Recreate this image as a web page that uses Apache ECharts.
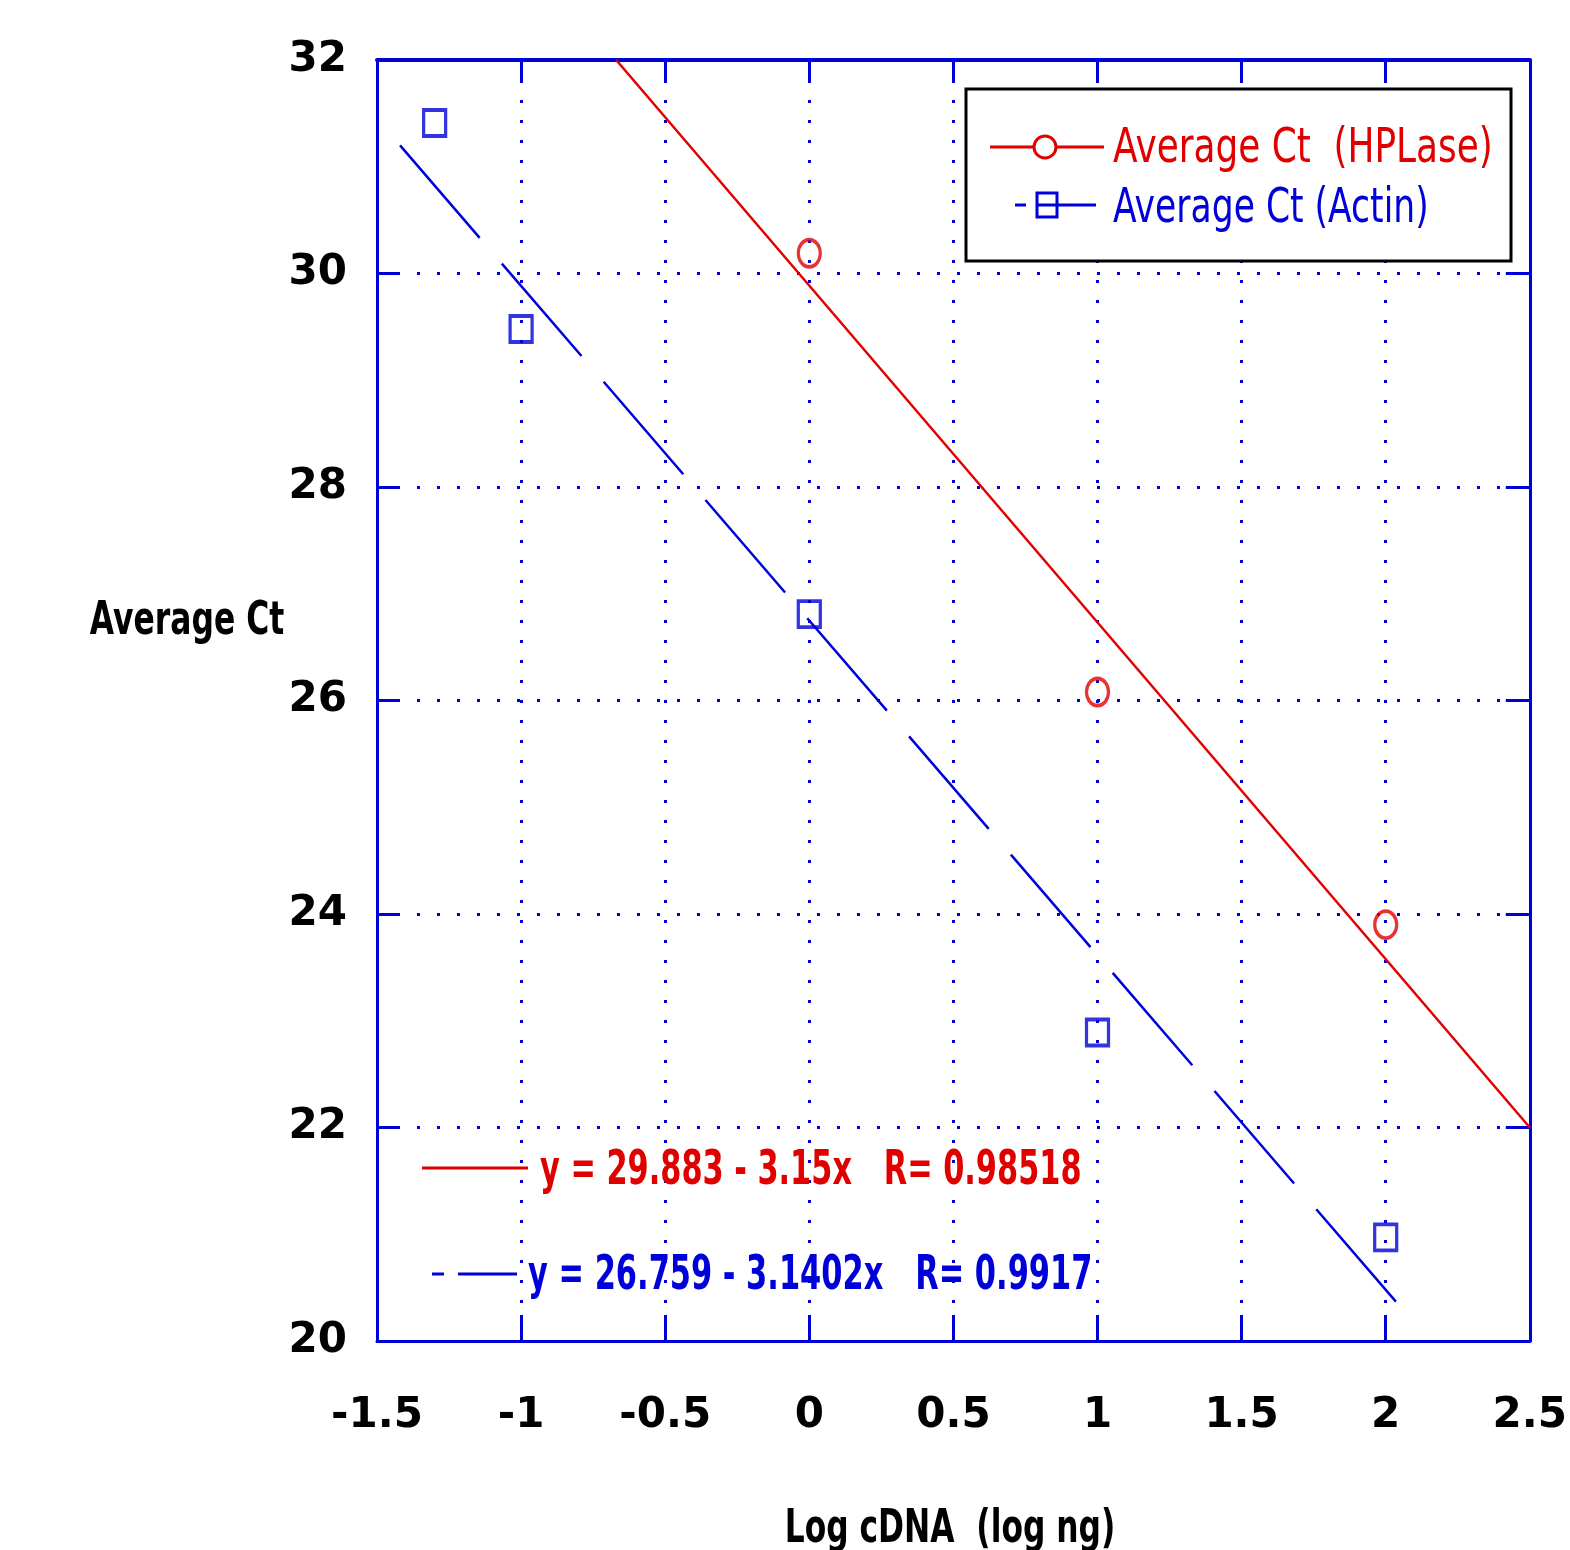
<!DOCTYPE html>
<html><head><meta charset="utf-8">
<script src="https://cdn.jsdelivr.net/npm/echarts@6/dist/echarts.min.js"></script>
<style>html,body{margin:0;padding:0;background:#fff}#c{width:1570px;height:1550px}</style>
</head><body><div id="c"></div>
<script>
// Data
const xTicks = [-1.5, -1, -0.5, 0, 0.5, 1, 1.5, 2, 2.5];
const yTicks = [20, 22, 24, 26, 28, 30, 32];
const hplaseX = [0, 1, 2];
const hplaseY = [30.19, 26.08, 23.9];
const actinX = [-1.3, -1, 0, 1, 2];
const actinY = [31.41, 29.48, 26.81, 22.89, 20.97];
// fit line endpoints
const hplaseFitX = [-0.67, 2.5];
const hplaseFitY = [32.0, 22.0];
const actinFitX = [-1.42, 2.07];
const actinFitY = [31.2, 20.26];
const legendNames = ['Average Ct  (HPLase)', 'Average Ct (Actin)'];
const eqTexts = ['y = 29.883 - 3.15x   R= 0.98518', 'y = 26.759 - 3.1402x   R= 0.9917'];
const yName = 'Average Ct';
const xName = 'Log cDNA  (log ng)';

const RED = '#e00000', BLUE = '#0000d8';
const FONT = "'DejaVu Sans',sans-serif";
const zip = (a, b) => a.map((v, i) => [v, b[i]]);

const chart = echarts.init(document.getElementById('c'));
const gridLine = {show: true, lineStyle: {color: BLUE, width: 3, type: [3, 17]}};
const tickLabel = {fontFamily: FONT, fontWeight: 'bold', fontSize: 42, color: '#000'};
function txt(x, y, text, fill, font, sx, align) {
  return {type: 'text', z: 12, x: x, y: y, scaleX: sx, scaleY: 1,
    style: {x: 0, y: 0, text: text, fill: fill, font: font, textAlign: align || 'left', textVerticalAlign: 'middle'}};
}
chart.setOption({
  animation: false,
  backgroundColor: '#fff',
  grid: {left: 377, right: 40, top: 60, bottom: 209, containLabel: false},
  xAxis: [{
    type: 'value', min: -1.5, max: 2.5, interval: 0.5, position: 'bottom',
    axisLine: {show: true, onZero: false, lineStyle: {color: BLUE, width: 3}},
    axisTick: {show: true, inside: true, length: 26, lineStyle: {color: BLUE, width: 3}},
    axisLabel: Object.assign({margin: 54, formatter: v => String(v)}, tickLabel),
    splitLine: gridLine
  }, {
    type: 'value', min: -1.5, max: 2.5, interval: 0.5, position: 'top',
    axisLine: {show: true, onZero: false, lineStyle: {color: BLUE, width: 4}},
    axisTick: {show: true, inside: true, length: 20, lineStyle: {color: BLUE, width: 3}},
    axisLabel: {show: false}, splitLine: {show: false}
  }],
  yAxis: [{
    type: 'value', min: 20, max: 32, interval: 2, position: 'left',
    axisLine: {show: true, onZero: false, lineStyle: {color: BLUE, width: 3}},
    axisTick: {show: true, inside: true, length: 22, lineStyle: {color: BLUE, width: 3}},
    axisLabel: Object.assign({margin: 30}, tickLabel),
    splitLine: gridLine
  }, {
    type: 'value', min: 20, max: 32, interval: 2, position: 'right',
    axisLine: {show: true, onZero: false, lineStyle: {color: BLUE, width: 3}},
    axisTick: {show: true, inside: true, length: 24, lineStyle: {color: BLUE, width: 3}},
    axisLabel: {show: false}, splitLine: {show: false}
  }],
  series: [
    {type: 'line', name: 'HPLase fit', data: zip(hplaseFitX, hplaseFitY), symbol: 'none',
      lineStyle: {color: RED, width: 2.5}, z: 3},
    {type: 'line', name: 'Actin fit', data: zip(actinFitX, actinFitY), symbol: 'none',
      lineStyle: {color: BLUE, width: 2.5, type: [122, 34]}, z: 3},
    {type: 'scatter', name: legendNames[0], data: zip(hplaseX, hplaseY), symbol: 'circle',
      symbolSize: [22, 27], itemStyle: {color: 'rgba(255,255,255,0)', borderColor: RED, borderWidth: 3.5}, z: 5},
    {type: 'scatter', name: legendNames[1], data: zip(actinX, actinY), symbol: 'rect',
      symbolSize: [22, 26], itemStyle: {color: 'rgba(255,255,255,0)', borderColor: BLUE, borderWidth: 3.5}, z: 5}
  ],
  graphic: [
    // legend box
    {type: 'rect', shape: {x: 966, y: 89, width: 545, height: 172}, z: 10,
      style: {fill: '#fff', stroke: '#000', lineWidth: 3}},
    {type: 'line', shape: {x1: 990, y1: 147, x2: 1104, y2: 147}, z: 11, style: {stroke: RED, lineWidth: 3}},
    {type: 'circle', shape: {cx: 1045, cy: 147, r: 11}, z: 12, style: {fill: '#fff', stroke: RED, lineWidth: 3}},
    txt(1113, 150, legendNames[0], RED, "48px " + FONT, 0.747),
    {type: 'line', shape: {x1: 1015, y1: 205, x2: 1026, y2: 205}, z: 11, style: {stroke: BLUE, lineWidth: 3}},
    {type: 'line', shape: {x1: 1036, y1: 205, x2: 1096, y2: 205}, z: 11, style: {stroke: BLUE, lineWidth: 3}},
    {type: 'rect', shape: {x: 1037, y: 193, width: 20, height: 24}, z: 12, style: {fill: 'none', stroke: BLUE, lineWidth: 3}},
    txt(1113, 210, legendNames[1], BLUE, "48px " + FONT, 0.72),
    // equations
    {type: 'line', shape: {x1: 422, y1: 1168, x2: 528, y2: 1168}, z: 11, style: {stroke: RED, lineWidth: 3}},
    txt(540, 1172, eqTexts[0], RED, "bold 48px " + FONT, 0.633),
    {type: 'line', shape: {x1: 432, y1: 1274, x2: 444, y2: 1274}, z: 11, style: {stroke: BLUE, lineWidth: 3}},
    {type: 'line', shape: {x1: 458, y1: 1274, x2: 517, y2: 1274}, z: 11, style: {stroke: BLUE, lineWidth: 3}},
    txt(528, 1277, eqTexts[1], BLUE, "bold 48px " + FONT, 0.635),
    // axis names
    txt(187, 622, yName, '#000', "bold 46px " + FONT, 0.683, 'center'),
    txt(950, 1530, xName, '#000', "bold 46px " + FONT, 0.681, 'center')
  ]
});
</script></body></html>
